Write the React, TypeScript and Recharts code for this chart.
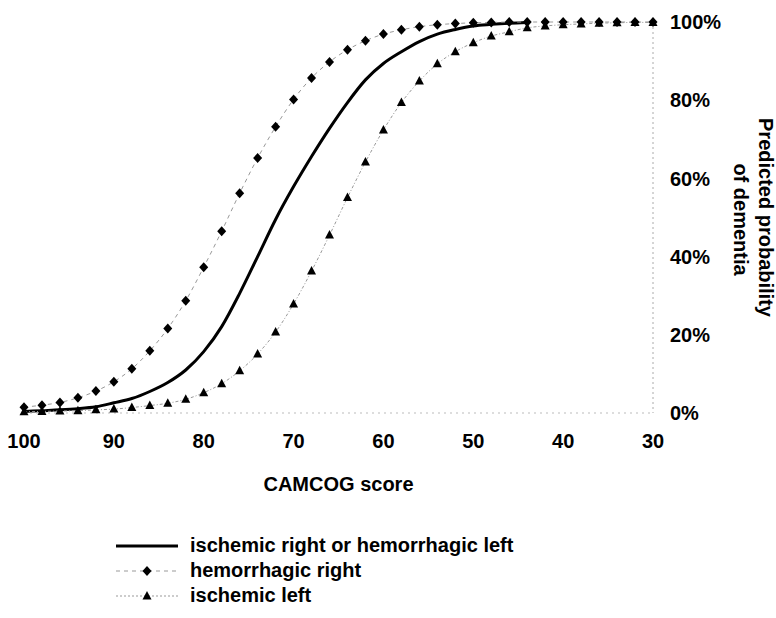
import { LineChart, Line, XAxis, YAxis, Legend, Label } from 'recharts';

// CAMCOG scores, read every 2 points from 100 down to 30
const SCORES = [
  100, 98, 96, 94, 92, 90, 88, 86, 84, 82, 80, 78, 76, 74, 72, 70, 68, 66,
  64, 62, 60, 58, 56, 54, 52, 50, 48, 46, 44, 42, 40, 38, 36, 34, 32, 30,
];

// predicted probability of dementia (%)
const ISCH_RIGHT_HEM_LEFT = [
  0.4, 0.6, 0.8, 1.1, 1.6, 2.6, 3.7, 5.5, 7.8, 11.0, 15.7, 22.1, 30.6, 40.0, 49.5, 57.9, 65.6, 72.8,
  79.4, 85.2, 89.4, 92.4, 95.0, 96.9, 98.1, 99.0, 99.4, 99.7, 99.9, null, null, null, null, null, null, null,
];
const HEM_RIGHT = [
  1.5, 2.0, 2.7, 3.9, 5.6, 8.0, 11.3, 15.9, 21.6, 28.7, 37.3, 46.5, 56.2, 65.2, 73.2, 80.2, 85.7, 89.8,
  92.9, 95.2, 96.9, 98.0, 98.8, 99.3, 99.6, 99.8, 99.9, 100, 100, 100, 100, 100, 100, 100, 100, 100,
];
const ISCH_LEFT = [
  0.3, 0.4, 0.5, 0.6, 0.8, 1.0, 1.4, 1.9, 2.5, 3.5, 5.2, 7.5, 10.8, 15.1, 20.7, 27.9, 36.3, 45.5,
  55.1, 64.2, 72.4, 79.4, 84.9, 89.3, 92.4, 94.7, 96.4, 97.5, 98.5, 99.0, 99.3, 99.5, 99.7, 99.8, 99.9, 99.9,
];

const X_TICKS = [100, 90, 80, 70, 60, 50, 40, 30];
const Y_TICKS = [0, 20, 40, 60, 80, 100];
const LEGEND_ORDER = ['ischRightHemLeft', 'hemRight', 'ischLeft'];

const data = SCORES.map((score, i) => ({
  score,
  ischRightHemLeft: ISCH_RIGHT_HEM_LEFT[i],
  hemRight: HEM_RIGHT[i],
  ischLeft: ISCH_LEFT[i],
}));

const FONT = '"Liberation Sans", Arial, Helvetica, sans-serif';
const TICK_STYLE = { fontFamily: FONT, fontSize: 20, fontWeight: 700, fill: '#000' };

const Diamond = ({ cx, cy }: any) => {
  if (cx == null || cy == null) return null;
  return <path d={`M${cx},${cy - 5}L${cx + 4.5},${cy}L${cx},${cy + 5}L${cx - 4.5},${cy}Z`} fill="#000" />;
};

const Triangle = ({ cx, cy }: any) => {
  if (cx == null || cy == null) return null;
  return <path d={`M${cx},${cy - 5}L${cx + 4.5},${cy + 3.5}L${cx - 4.5},${cy + 3.5}Z`} fill="#000" />;
};

const LEGEND_STYLE: Record<string, { dash?: string; width: number; color: string; marker?: 'diamond' | 'triangle' }> = {
  ischRightHemLeft: { width: 3, color: '#000' },
  hemRight: { dash: '4 4', width: 1, color: '#999', marker: 'diamond' },
  ischLeft: { dash: '2 2', width: 1, color: '#999', marker: 'triangle' },
};

const renderLegend = ({ payload }: any) => {
  const items = [...(payload || [])].sort(
    (a: any, b: any) => LEGEND_ORDER.indexOf(a.dataKey) - LEGEND_ORDER.indexOf(b.dataKey)
  );
  return (
    <div>
      {items.map((entry: any) => {
        const st = LEGEND_STYLE[entry.dataKey];
        return (
          <div key={entry.dataKey} style={{ display: 'flex', alignItems: 'center', height: 25 }}>
            <svg width={62} height={20}>
              <line x1={0} y1={10} x2={62} y2={10} stroke={st.color} strokeWidth={st.width} strokeDasharray={st.dash} />
              {st.marker === 'diamond' && <Diamond cx={31} cy={10} />}
              {st.marker === 'triangle' && <Triangle cx={31} cy={10} />}
            </svg>
            <span style={{ marginLeft: 12, fontFamily: FONT, fontSize: 20, fontWeight: 700, color: '#000' }}>
              {entry.value}
            </span>
          </div>
        );
      })}
    </div>
  );
};

const XLabel = ({ viewBox }: any) => {
  const { x, y, width } = viewBox;
  return (
    <text x={x + width / 2} y={y + 71} textAnchor="middle" dominantBaseline="central" style={TICK_STYLE}>
      CAMCOG score
    </text>
  );
};

const YLabel = ({ viewBox }: any) => {
  const { x, y, height } = viewBox;
  const cy = y + height / 2;
  return (
    <g style={TICK_STYLE}>
      <text transform={`translate(${x + 113},${cy}) rotate(90)`} textAnchor="middle" dominantBaseline="central">
        Predicted probability
      </text>
      <text transform={`translate(${x + 88},${cy + 2}) rotate(90)`} textAnchor="middle" dominantBaseline="central">
        of dementia
      </text>
    </g>
  );
};

export default function App() {
  return (
    <div style={{ position: 'absolute', left: 0, top: 0, width: 776, height: 618, background: '#fff' }}>
      <LineChart width={776} height={618} data={data} margin={{ top: 22, right: 0, left: 24, bottom: 115 }}>
        <XAxis
          dataKey="score"
          type="number"
          domain={[30, 100]}
          reversed
          ticks={X_TICKS}
          interval={0}
          height={90}
          stroke="#bbb"
          strokeDasharray="2 4"
          tickLine={false}
          tickSize={0}
          tickMargin={21}
          tick={TICK_STYLE}
        >
          <Label content={<XLabel />} />
        </XAxis>
        <YAxis
          orientation="right"
          type="number"
          domain={[0, 100]}
          ticks={Y_TICKS}
          width={123}
          stroke="#aaa"
          strokeDasharray="2 3"
          tickLine={false}
          tickSize={0}
          tickMargin={17}
          tick={TICK_STYLE}
          tickFormatter={(v: number) => `${v}%`}
        >
          <Label content={<YLabel />} />
        </YAxis>
        <Line
          dataKey="ischRightHemLeft"
          name="ischemic right or hemorrhagic left"
          type="monotone"
          stroke="#000"
          strokeWidth={3}
          dot={false}
          connectNulls={false}
          isAnimationActive={false}
        />
        <Line
          dataKey="hemRight"
          name="hemorrhagic right"
          type="monotone"
          stroke="#999"
          strokeWidth={1}
          strokeDasharray="4 4"
          dot={<Diamond />}
          isAnimationActive={false}
        />
        <Line
          dataKey="ischLeft"
          name="ischemic left"
          type="monotone"
          stroke="#999"
          strokeWidth={1}
          strokeDasharray="3 2 1 2"
          dot={<Triangle />}
          isAnimationActive={false}
        />
        <Legend
          layout="vertical"
          align="center"
          verticalAlign="middle"
          content={renderLegend}
          wrapperStyle={{ left: 116, top: 533, width: 'auto' }}
        />
      </LineChart>
    </div>
  );
}
